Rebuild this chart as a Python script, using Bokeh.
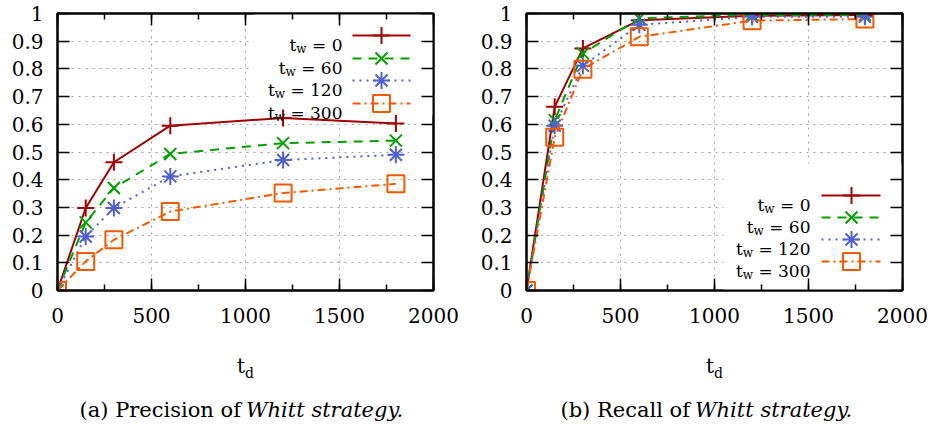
from bokeh.plotting import figure
from bokeh.models import Label, LinearAxis, SingleIntervalTicker, FixedTicker, Range1d, Div
from bokeh.layouts import row, column
from bokeh.embed import file_html
from bokeh.resources import INLINE

# ---------------- data ----------------
td = [0, 150, 300, 600, 1200, 1800]
tw_labels = ["0", "60", "120", "300"]

precision_tw0 = [0, 0.298, 0.463, 0.595, 0.623, 0.603]
precision_tw60 = [0, 0.246, 0.370, 0.493, 0.532, 0.541]
precision_tw120 = [0, 0.195, 0.298, 0.412, 0.471, 0.490]
precision_tw300 = [0, 0.105, 0.183, 0.285, 0.352, 0.385]

recall_tw0 = [0, 0.663, 0.874, 0.976, 0.992, 0.995]
recall_tw60 = [0, 0.615, 0.856, 0.983, 0.995, 0.995]
recall_tw120 = [0, 0.595, 0.811, 0.959, 0.988, 0.988]
recall_tw300 = [0, 0.553, 0.799, 0.916, 0.974, 0.980]

x_ticks = [0, 500, 1000, 1500, 2000]
x_tick_labels = ["0", "500", "1000", "1500", "2000"]
y_ticks = [0, 0.1, 0.2, 0.3, 0.4, 0.5, 0.6, 0.7, 0.8, 0.9, 1.0]
y_tick_labels = ["0", "0.1", "0.2", "0.3", "0.4", "0.5", "0.6", "0.7", "0.8", "0.9", "1"]

axis_label_main = "t"
axis_label_sub = "d"
legend_main = "t"
legend_sub = "w"
captions = [("(a) Precision of", "Whitt strategy."), ("(b) Recall of", "Whitt strategy.")]

# ---------------- styles ----------------
COLORS = ["#a00000", "#00a000", "#5060d0", "#f25900"]
DASHES = ["solid", "9 7", "2 5", "8 4 2 4"]
MARKERS = ["cross", "x", "asterisk", "square"]
FONT = "DejaVu Serif"
TICK_SIZE = 20
KEY_SIZE = 17
KEY_SUB = 12
MARK_SIZE = 17
CAP_SIZE = 21

X0, X1 = 0, 2000
Y0, Y1 = 0, 1
FRAME_W, FRAME_H = 376, 277
FRAME_TOP = 13
FRAME_BOTTOM = FRAME_TOP + FRAME_H
FIG_H = 340
DIV_H = 424 - FIG_H

# DejaVu Serif advance widths (em) for key text measuring
W_EM = {" ": 0.318, "=": 0.838, "t": 0.402, "w": 0.856}
for d in "0123456789":
    W_EM[d] = 0.636


def text_w(s, size):
    return sum(W_EM.get(c, 0.6) for c in s) * size


def make_fig(series, fig_left, fig_width, frame_left_page, legend, box):
    border_left = frame_left_page - fig_left
    border_right = fig_width - border_left - FRAME_W

    def fx(px):
        return X0 + (px - frame_left_page) * (X1 - X0) / FRAME_W

    def fy(py):
        return Y0 + (FRAME_BOTTOM - py) * (Y1 - Y0) / FRAME_H

    p = figure(width=fig_width, height=FIG_H, output_backend="svg", toolbar_location=None,
               x_range=Range1d(X0, X1), y_range=Range1d(Y0, Y1),
               min_border_left=border_left, min_border_right=border_right,
               min_border_top=FRAME_TOP, min_border_bottom=FIG_H - FRAME_BOTTOM)
    p.outline_line_color = "black"
    p.outline_line_width = 2
    p.background_fill_color = "white"
    p.border_fill_color = "white"

    bottom_ax = p.below[0]
    left_ax = p.left[0]
    top_ax = LinearAxis()
    right_ax = LinearAxis()
    p.add_layout(top_ax, "above")
    p.add_layout(right_ax, "right")

    xt = SingleIntervalTicker(interval=500, num_minor_ticks=2)
    yt = FixedTicker(ticks=y_ticks)

    for ax in [bottom_ax, top_ax]:
        ax.ticker = xt
        ax.minor_tick_in = 6
        ax.minor_tick_out = 0
        ax.minor_tick_line_color = "black"
        ax.minor_tick_line_width = 1.5
    for ax in [left_ax, right_ax]:
        ax.ticker = yt
        ax.minor_tick_line_color = None
    for ax in [bottom_ax, top_ax, left_ax, right_ax]:
        ax.major_tick_in = 12
        ax.major_tick_out = 0
        ax.major_tick_line_color = "black"
        ax.major_tick_line_width = 1.5
        ax.axis_line_color = "black"
        ax.axis_line_width = 2
        ax.major_label_text_font = FONT
        ax.major_label_text_color = "black"
    for ax in [top_ax, right_ax]:
        ax.major_label_text_font_size = "1px"
        ax.major_label_text_color = None
        ax.major_label_standoff = 0

    bottom_ax.major_label_overrides = {t: l for t, l in zip(x_ticks, x_tick_labels)}
    left_ax.major_label_overrides = {t: l for t, l in zip(y_ticks, y_tick_labels)}
    bottom_ax.major_label_text_font_size = f"{TICK_SIZE}px"
    left_ax.major_label_text_font_size = f"{TICK_SIZE}px"
    bottom_ax.major_label_standoff = 17
    left_ax.major_label_standoff = 14

    p.xgrid.ticker = xt
    p.ygrid.ticker = yt
    for g in [p.xgrid[0], p.ygrid[0]]:
        g.grid_line_color = "#a0a0a0"
        g.grid_line_width = 1
        g.grid_line_dash = "2 5"

    # opaque key background
    bl, br, bt, bb = box
    p.quad(left=[fx(bl)], right=[fx(br)], top=[fy(bt)], bottom=[fy(bb)],
           fill_color="white", line_color=None)

    # data
    for i, ys in enumerate(series):
        p.line(td, ys, line_color=COLORS[i], line_width=2, line_dash=DASHES[i])
        p.scatter(td, ys, marker=MARKERS[i], size=MARK_SIZE, line_color=COLORS[i],
                  fill_color=None, line_width=2)

    # key
    text_right, l0, l1, mx, rows = legend
    for i, py in enumerate(rows):
        p.line([fx(l0), fx(l1)], [fy(py), fy(py)], line_color=COLORS[i], line_width=2,
               line_dash=DASHES[i])
        p.scatter([fx(mx)], [fy(py)], marker=MARKERS[i], size=MARK_SIZE, line_color=COLORS[i],
                  fill_color=None, line_width=2)
        rest = " = " + tw_labels[i]
        rw = text_w(rest, KEY_SIZE)
        ww = text_w(legend_sub, KEY_SUB)
        p.add_layout(Label(x=fx(text_right), y=fy(py + 9), text="= " + tw_labels[i],
                           text_align="right", text_baseline="alphabetic",
                           text_font=FONT, text_font_size=f"{KEY_SIZE}px", text_color="black"))
        p.add_layout(Label(x=fx(text_right - rw), y=fy(py + 13), text=legend_sub,
                           text_align="right", text_baseline="alphabetic",
                           text_font=FONT, text_font_size=f"{KEY_SUB}px", text_color="black"))
        p.add_layout(Label(x=fx(text_right - rw - ww), y=fy(py + 9), text=legend_main,
                           text_align="right", text_baseline="alphabetic",
                           text_font=FONT, text_font_size=f"{KEY_SIZE}px", text_color="black"))
    return p


def span(text, size, baseline_rel, left=None, right=None, italic=False):
    top = baseline_rel - 0.846 * size
    pos = f"left:{left}px;" if left is not None else f"right:{right}px;"
    style = (f"position:absolute;{pos}top:{top:.1f}px;font-size:{size}px;line-height:1;"
             f"white-space:nowrap;font-family:'{FONT}';color:black;")
    if italic:
        style += "font-style:italic;"
    return f'<span style="{style}">{text}</span>'


def make_div(fig_left, fig_width, center_page, caption, join_page):
    c = center_page - fig_left
    j = join_page - fig_left
    parts = [
        span(axis_label_main, 20, 373 - FIG_H, right=fig_width - c),
        span(axis_label_sub, 14, 378 - FIG_H, left=c),
        span(caption[0], CAP_SIZE, 418 - FIG_H, right=fig_width - (j - 5)),
        span(caption[1], CAP_SIZE, 418 - FIG_H, left=j, italic=True),
    ]
    html = (f'<div style="position:relative;width:{fig_width}px;height:{DIV_H}px;'
            f'overflow:hidden;background:white;">' + "".join(parts) + "</div>")
    return Div(text=html, width=fig_width, height=DIV_H, margin=0)


W1, W2 = 467, 468
p1 = make_fig([precision_tw0, precision_tw60, precision_tw120, precision_tw300],
              0, W1, 57,
              (342, 352, 410, 381, [35, 58, 80, 103]),
              (253, 440, 5, 115))
p2 = make_fig([recall_tw0, recall_tw60, recall_tw120, recall_tw300],
              W1, W2, 526,
              (810, 821, 880, 851, [195, 217, 239, 261]),
              (723, 910, 163, 295))
d1 = make_div(0, W1, 57 + FRAME_W / 2, captions[0], 246)
d2 = make_div(W1, W2, 526 + FRAME_W / 2, captions[1], 695)

layout = column(row(p1, p2, spacing=0), row(d1, d2, spacing=0), spacing=0)
open("out.html", "w").write(file_html(layout, INLINE))
